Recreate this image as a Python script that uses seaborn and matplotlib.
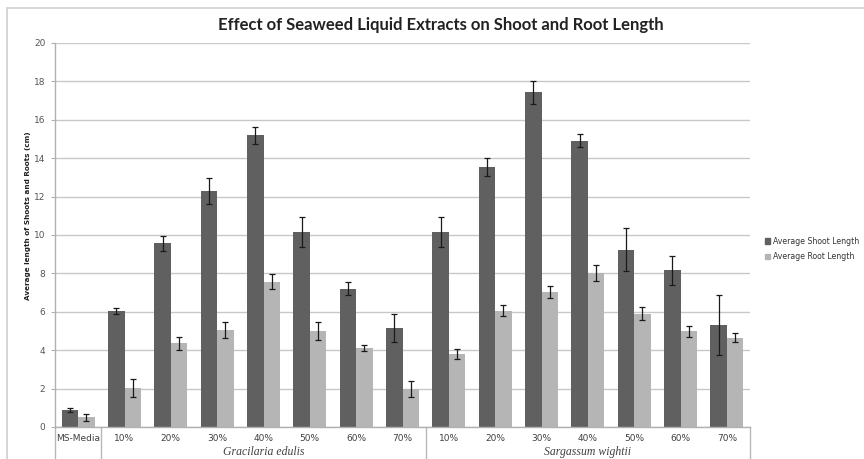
import matplotlib
matplotlib.use("Agg")
import matplotlib.pyplot as plt
import matplotlib.transforms as mtransforms
from matplotlib.patches import Rectangle
from matplotlib.lines import Line2D
import seaborn as sns
import pandas as pd
import numpy as np

# ---------------- data ----------------
category_keys = ["MS", "G10", "G20", "G30", "G40", "G50", "G60", "G70",
                 "S10", "S20", "S30", "S40", "S50", "S60", "S70"]
tick_labels = ["MS-Media", "10%", "20%", "30%", "40%", "50%", "60%", "70%",
               "10%", "20%", "30%", "40%", "50%", "60%", "70%"]
shoot_length = [0.88, 6.04, 9.57, 12.27, 15.2, 10.14, 7.19, 5.17,
                10.16, 13.54, 17.43, 14.9, 9.24, 8.16, 5.3]
shoot_err = [0.09, 0.14, 0.4, 0.68, 0.45, 0.78, 0.34, 0.73,
             0.76, 0.49, 0.6, 0.34, 1.12, 0.77, 1.56]
root_length = [0.5, 2.01, 4.36, 5.05, 7.57, 5.0, 4.13, 1.98,
               3.8, 6.06, 7.05, 8.02, 5.9, 4.98, 4.65]
root_err = [0.17, 0.47, 0.33, 0.44, 0.4, 0.45, 0.16, 0.43,
            0.28, 0.28, 0.31, 0.4, 0.33, 0.3, 0.23]
series_names = ["Average Shoot Length", "Average Root Length"]
group_names = ["Gracilaria edulis", "Sargassum wightii"]
y_ticks = [0, 2, 4, 6, 8, 10, 12, 14, 16, 18, 20]

# ---------------- figure ----------------
sns.set_theme(style="white")
plt.rcParams["font.family"] = ["DejaVu Sans"]

W, H = 864, 459
fig = plt.figure(figsize=(W / 100, H / 100), dpi=100)
ax = fig.add_axes([55 / W, 1 - 427 / H, (750 - 55) / W, (427 - 43) / H])

df = pd.DataFrame({
    "category": category_keys * 2,
    "value": shoot_length + root_length,
    "series": [series_names[0]] * len(category_keys) + [series_names[1]] * len(category_keys),
})
palette = {series_names[0]: "#606060", series_names[1]: "#b5b5b5"}
sns.barplot(data=df, x="category", y="value", hue="series", order=category_keys,
            hue_order=series_names, palette=palette, width=0.71, gap=0,
            saturation=1, errorbar=None, legend=False, ax=ax, zorder=2,
            linewidth=0)

# error bars at bar centers
bars = ax.patches
n = len(category_keys)
errs = shoot_err + root_err
vals = shoot_length + root_length
xs = [b.get_x() + b.get_width() / 2 for b in bars[:2 * n]]
ax.errorbar(xs, vals, yerr=errs, fmt="none", ecolor="#1a1a1a", elinewidth=0.9,
            capsize=2.5, capthick=0.9, zorder=3)

ax.set_ylim(0, 20)
ax.set_xlim(-0.5, n - 0.5)
ax.set_yticks(y_ticks)
ax.set_yticklabels([str(t) for t in y_ticks], fontsize=6.5, color="#555555")
ax.yaxis.grid(True, color="#c8c8c8", linewidth=1.0, zorder=0)
ax.set_axisbelow(True)
ax.tick_params(axis="y", length=3, width=0.8, color="#b0b0b0", pad=4, left=True)
ax.set_xticks(range(n))
ax.set_xticklabels(tick_labels, fontsize=6.5, color="#404040")
ax.tick_params(axis="x", length=0, pad=5)
ax.set_xlabel("")
ax.set_ylabel("")
for s in ["top", "right"]:
    ax.spines[s].set_visible(False)
for s in ["left", "bottom"]:
    ax.spines[s].set_color("#b0b0b0")
    ax.spines[s].set_linewidth(1.0)

# category group separators below axis
trans = mtransforms.blended_transform_factory(ax.transData, ax.transAxes)
for xsep in [-0.5, 0.5, 7.5, 14.5]:
    ax.add_line(Line2D([xsep, xsep], [0, -0.09], transform=trans, color="#b8b8b8",
                       linewidth=1.0, clip_on=False))
for gname, cx in zip(group_names, [4.0, 11.0]):
    ax.text(cx, -0.065, gname, transform=trans, ha="center", va="center",
            fontsize=8.5, style="italic", family=["Liberation Serif", "DejaVu Serif"],
            color="#404040")

# title & y label
fig.text(441 / W, 1 - 25 / H, "Effect of Seaweed Liquid Extracts on Shoot and Root Length",
         ha="center", va="center", fontsize=12, fontweight="bold",
         family=["Lato", "DejaVu Sans"], color="#222222")
fig.text(28 / W, 1 - 216 / H, "Average length of Shoots and Roots (cm)", rotation=90,
         ha="center", va="center", fontsize=5.2, fontweight="bold", color="#222222")

# legend
handles = [Rectangle((0, 0), 1, 1, color=palette[s]) for s in series_names]
fig.legend(handles, series_names, loc="center left", bbox_to_anchor=(765 / W, 1 - 249 / H),
           frameon=False, fontsize=5.6, handlelength=0.7, handleheight=0.7,
           handletextpad=0.3, labelspacing=0.8, borderpad=0, borderaxespad=0,
           labelcolor="#333333")

# outer chart border
fig.add_artist(Rectangle((7 / W, -0.05), 1.2, 1 - 8 / H + 0.05, transform=fig.transFigure,
                         fill=False, edgecolor="#d0d0d0", linewidth=1.2))

fig.savefig("out.png", dpi=100)
